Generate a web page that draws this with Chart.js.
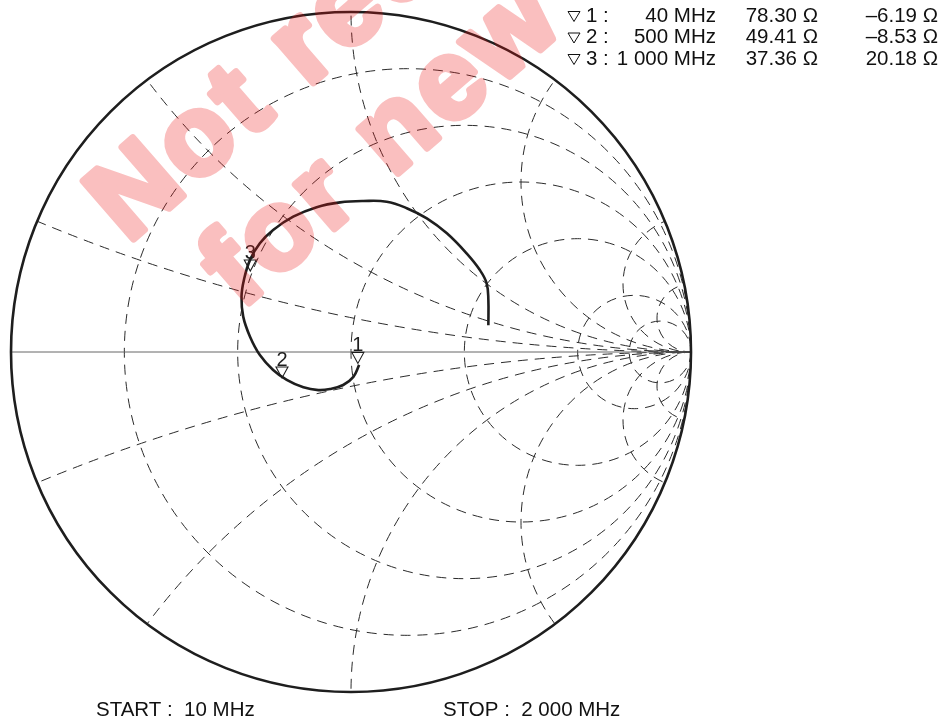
<!DOCTYPE html>
<html>
<head>
<meta charset="utf-8">
<script src="https://cdn.jsdelivr.net/npm/chart.js@4.4.1/dist/chart.umd.min.js"></script>
<style>
	html, body { margin: 0; padding: 0; background: #fff; }
	canvas { display: block; }
</style>
</head>
<body>
<canvas id="smith" width="940" height="722"></canvas>
<script>
// reference impedance of the chart (ohm)
const z0 = 75;

// constant resistance circles and reactance arcs, normalised to z0
const gridResistance = [0.2, 0.5, 1, 2, 5, 10];
const gridReactance = [0.2, 0.5, 1, 2, 5, 10];

// measured trace as reflection coefficient, sweep 10 MHz -> 2 000 MHz
const traceRe = [
	0.024, 0.007, -0.023, -0.062, -0.096, -0.140, -0.189, -0.229, -0.268, -0.297,
	-0.317, -0.322, -0.315, -0.297, -0.268, -0.229, -0.170, -0.101, -0.032, 0.036,
	0.105, 0.164, 0.223, 0.282, 0.340, 0.379, 0.399, 0.404, 0.404
];
const traceIm = [
	-0.038, -0.073, -0.097, -0.109, -0.112, -0.104, -0.082, -0.053, -0.009, 0.045,
	0.104, 0.163, 0.212, 0.271, 0.320, 0.359, 0.398, 0.426, 0.440, 0.444,
	0.442, 0.423, 0.393, 0.349, 0.290, 0.241, 0.202, 0.153, 0.079
];

// markers
const markerNames = ["1", "2", "3"];
const markerFreq = [40, 500, 1000]; // MHz
const markerRes = [78.3, 49.41, 37.36]; // ohm
const markerReact = [-6.19, -8.53, 20.18]; // ohm

const sweepStart = 10; // MHz
const sweepStop = 2000; // MHz

const stampLines = ["Not recommended", "for new design"];

const FONT = "'Liberation Sans', Arial, Helvetica, sans-serif";
const INK = "#1e1e1e";

const toGamma = (r, x) => {
	// (z - 1) / (z + 1) with z = (r + jx) / z0
	const a = r / z0;
	const b = x / z0;
	const d = (a + 1) * (a + 1) + b * b;
	return { x: (a * a + b * b - 1) / d, y: (2 * b) / d };
};
const fmtFreq = v =>
	String(v).replace(/\B(?=(\d{3})+(?!\d))/g, " ") + " MHz";
const fmtOhm = v => (v < 0 ? "\u2013" : "") + Math.abs(v).toFixed(2) + " \u03A9";

// hollow marker triangle, tip pointing down
function drawTriangle(ctx, cx, tipY, w, h) {
	ctx.beginPath();
	ctx.moveTo(cx - w / 2, tipY - h);
	ctx.lineTo(cx + w / 2, tipY - h);
	ctx.lineTo(cx, tipY);
	ctx.closePath();
	ctx.stroke();
}

// heavy diagonal stamp, painted opaque off screen then laid on with alpha
function drawStamp(ctx, w, h) {
	const off = document.createElement("canvas");
	off.width = w;
	off.height = h;
	const c = off.getContext("2d");
	c.translate(128, 244);
	c.rotate((-41 * Math.PI) / 180);
	c.font = `bold 112px ${FONT}`;
	c.letterSpacing = "5px";
	c.fillStyle = "rgb(235, 20, 20)";
	c.strokeStyle = "rgb(235, 20, 20)";
	c.lineWidth = 7;
	c.lineJoin = "round";
	c.fillText(stampLines[0], 0, 0);
	c.strokeText(stampLines[0], 0, 0);
	c.fillText(stampLines[1], 42, 124);
	c.strokeText(stampLines[1], 42, 124);
	ctx.save();
	ctx.globalAlpha = 0.27;
	ctx.drawImage(off, 0, 0);
	ctx.restore();
}

const smithGrid = {
	id: "smithGrid",
	beforeDatasetsDraw(chart) {
		const { ctx, scales } = chart;
		const px = u => scales.x.getPixelForValue(u);
		const py = v => scales.y.getPixelForValue(v);
		const cx = px(0);
		const cy = py(0);
		const radius = px(1) - cx;

		ctx.save();
		ctx.beginPath();
		ctx.arc(cx, cy, radius, 0, Math.PI * 2);
		ctx.clip();
		ctx.setLineDash([10, 7]);
		ctx.lineWidth = 1;
		ctx.strokeStyle = "#2b2b2b";
		for (const r of gridResistance) {
			ctx.beginPath();
			ctx.arc(px(r / (1 + r)), cy, radius / (1 + r), 0, Math.PI * 2);
			ctx.stroke();
		}
		for (const xv of gridReactance) {
			for (const s of [1, -1]) {
				ctx.beginPath();
				ctx.arc(px(1), py(s / xv), radius / xv, 0, Math.PI * 2);
				ctx.stroke();
			}
		}
		ctx.restore();

		// real axis
		ctx.save();
		ctx.strokeStyle = "#666";
		ctx.lineWidth = 1;
		ctx.beginPath();
		ctx.moveTo(px(-1), cy);
		ctx.lineTo(px(1), cy);
		ctx.stroke();

		// |gamma| = 1 boundary
		ctx.strokeStyle = INK;
		ctx.lineWidth = 2.6;
		ctx.beginPath();
		ctx.arc(cx, cy, radius, 0, Math.PI * 2);
		ctx.stroke();
		ctx.restore();
	},
	afterDatasetsDraw(chart) {
		const { ctx, scales } = chart;
		ctx.save();
		ctx.strokeStyle = INK;
		ctx.fillStyle = INK;
		ctx.lineWidth = 1.1;
		ctx.font = `20px ${FONT}`;
		ctx.textAlign = "center";
		ctx.textBaseline = "alphabetic";
		markerNames.forEach((name, i) => {
			const g = toGamma(markerRes[i], markerReact[i]);
			const x = scales.x.getPixelForValue(g.x) - 1;
			const tip = scales.y.getPixelForValue(g.y) - 2;
			drawTriangle(ctx, x, tip, 12, 11);
			ctx.fillText(name, x, tip - 12);
		});
		ctx.restore();
	},
	afterDraw(chart) {
		const { ctx } = chart;
		ctx.save();
		ctx.fillStyle = "#111";
		ctx.strokeStyle = "#111";
		ctx.lineWidth = 1;
		ctx.font = `20.5px ${FONT}`;
		ctx.textBaseline = "alphabetic";

		// marker readout
		markerNames.forEach((name, i) => {
			const base = 21.5 + i * 21.5;
			ctx.textAlign = "left";
			drawTriangle(ctx, 574, base, 12, 10);
			ctx.fillText(name + " :", 586, base);
			ctx.textAlign = "right";
			ctx.fillText(fmtFreq(markerFreq[i]), 716, base);
			ctx.fillText(fmtOhm(markerRes[i]), 818, base);
			ctx.fillText(fmtOhm(markerReact[i]), 938, base);
		});

		// sweep range
		ctx.textAlign = "left";
		ctx.fillText("START :  " + fmtFreq(sweepStart), 96, 716);
		ctx.fillText("STOP :  " + fmtFreq(sweepStop), 443, 716);
		ctx.restore();

		drawStamp(ctx, chart.width, chart.height);
	}
};

new Chart(document.getElementById("smith"), {
	type: "scatter",
	data: {
		datasets: [
			{
				data: traceRe.map((u, i) => ({ x: u, y: traceIm[i] })),
				showLine: true,
				tension: 0.4,
				borderColor: INK,
				borderWidth: 2.6,
				pointRadius: 0,
				clip: false
			}
		]
	},
	options: {
		responsive: false,
		animation: false,
		devicePixelRatio: 1,
		layout: { padding: { left: 11, top: 12, right: 249, bottom: 30 } },
		scales: {
			x: { type: "linear", min: -1, max: 1, display: false },
			y: { type: "linear", min: -1, max: 1, display: false }
		},
		plugins: {
			legend: { display: false },
			tooltip: { enabled: false }
		}
	},
	plugins: [smithGrid]
});
</script>
</body>
</html>
